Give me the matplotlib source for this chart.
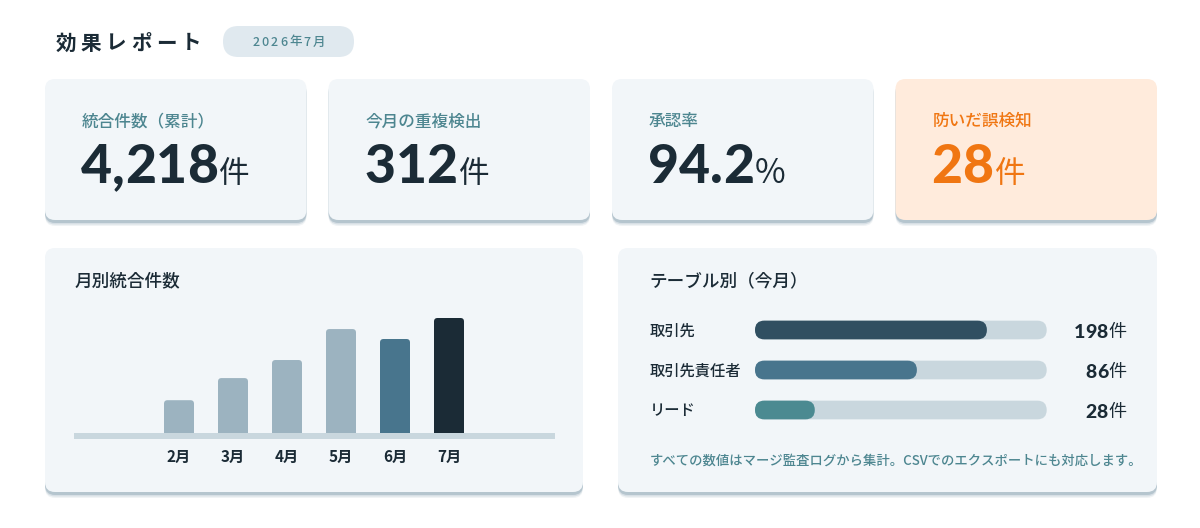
import matplotlib
matplotlib.use('Agg')
import matplotlib.pyplot as plt
from matplotlib.patches import FancyBboxPatch, Rectangle

plt.rcParams['font.family'] = ['Noto Sans CJK JP', 'DejaVu Sans']

# ---- data ----
report_title = '効果レポート'
report_month = '2026年7月'

kpi_labels = ['統合件数（累計）', '今月の重複検出', '承認率', '防いだ誤検知']
kpi_values = ['4,218', '312', '94.2', '28']
kpi_units = ['件', '件', '%', '件']

months = ['2月', '3月', '4月', '5月', '6月', '7月']
monthly_merges = [89, 149, 198, 282, 255, 312]

tables = ['取引先', '取引先責任者', 'リード']
table_counts = [198, 86, 28]
table_fill_pct = [79.5, 55.5, 20.5]

footnote = 'すべての数値はマージ監査ログから集計。CSVでのエクスポートにも対応します。'

# ---- colours ----
DARK = '#1b2b36'
TEAL = '#4d8690'
ORANGE = '#f07612'
CARD = '#f2f6f9'
CARD_WARM = '#ffebdc'
SHADOW = '#9fb4c0'
TRACK = '#c9d7de'
BAR_COLORS = ['#9cb3c0'] * 4 + ['#48758d', DARK]
FILL_COLORS = ['#304f61', '#48758d', '#4b8a91']

W, H = 1200, 528
fig = plt.figure(figsize=(W / 100, H / 100), dpi=100)
fig.patch.set_facecolor('white')
bg = fig.add_axes([0, 0, 1, 1])
bg.set_xlim(0, W)
bg.set_ylim(H, 0)
bg.axis('off')
renderer = fig.canvas.get_renderer()


def card(x, y, w, h, color=CARD):
    for off, a in [(6, 0.15), (4.5, 0.3), (3, 0.6)]:
        bg.add_patch(FancyBboxPatch((x, y + off), w, h, boxstyle='round,pad=0,rounding_size=10',
                                    fc=SHADOW, ec='none', alpha=a))
    bg.add_patch(FancyBboxPatch((x, y), w, h, boxstyle='round,pad=0,rounding_size=10',
                                fc=color, ec='none'))


def spaced(ax, x, y, s, spacing, ha='left', **kw):
    """draw a string char by char with a fixed gap, returns its width"""
    texts = [ax.text(0, y, c, ha='left', **kw) for c in s]
    widths = [t.get_window_extent(renderer).width for t in texts]
    total = sum(widths) + spacing * (len(s) - 1)
    if ha == 'center':
        cx = x - total / 2
    elif ha == 'right':
        cx = x - total
    else:
        cx = x
    for t, w in zip(texts, widths):
        t.set_x(cx)
        cx += w + spacing
    return total


# ---- header ----
spaced(bg, 56, 43, report_title, 4.5, va='center', fontsize=14.8, fontweight='bold', color=DARK)
bg.add_patch(FancyBboxPatch((223, 26), 131, 31, boxstyle='round,pad=0,rounding_size=15.5',
                            fc='#e0e9ef', ec='none'))
spaced(bg, 289, 42, report_month, 2, ha='center', va='center', fontsize=9,
       fontweight='medium', color=TEAL)

# ---- KPI cards ----
card_w = 261.5
for i, (lab, val, unit) in enumerate(zip(kpi_labels, kpi_values, kpi_units)):
    x = 45 + i * (card_w + 22)
    warm = i == 3
    card(x, 79, card_w, 141, CARD_WARM if warm else CARD)
    tx = x + 37
    bg.text(tx, 121, lab, va='center', fontsize=12, fontweight='medium',
            color=ORANGE if warm else TEAL)
    c = ORANGE if warm else DARK
    wv = spaced(bg, tx - 1, 183, val, 0, va='baseline', fontsize=38.5,
                fontfamily='Lato', fontweight='black', color=c)
    bg.text(tx + wv, 183, unit, va='baseline', fontsize=24 if unit == '%' else 22,
            fontweight='regular', color=c)

# ---- monthly card ----
card(45, 248, 538, 244)
bg.text(75, 281, '月別統合件数', va='center', fontsize=12.7, fontweight='medium', color=DARK)
bg.add_patch(Rectangle((74, 433), 481, 6, fc=TRACK, ec='none'))

ax = fig.add_axes([74 / W, (H - 433) / H, 481 / W, 125 / H])
ax.set_facecolor('none')
xs = list(range(len(months)))
bars = ax.bar(xs, monthly_merges, width=30 / 54, color=BAR_COLORS)
ax.set_xlim((74 - 164 - 15) / 54, (555 - 164 - 15) / 54)
ax.set_ylim(0, 312 * 125 / 115)
pxx = 54.0
pxy = 115 / 312
for b in bars:
    b.set_visible(False)
    r = 3.5
    ax.add_patch(FancyBboxPatch((b.get_x(), -20), b.get_width(), b.get_height() + 20,
                                boxstyle=f'round,pad=0,rounding_size={r / pxx}',
                                mutation_aspect=pxx / pxy, fc=b.get_facecolor(), ec='none'))
ax.set_xticks(xs)
ax.set_xticklabels(months, fontsize=11, fontweight='bold', color=DARK)
ax.tick_params(axis='x', length=0, pad=11.5)
ax.set_yticks([])
for s in ax.spines.values():
    s.set_visible(False)

# ---- per-table card ----
card(618, 248, 539, 244)
bg.text(649, 281, 'テーブル別（今月）', va='center', fontsize=12.7, fontweight='medium', color=DARK)

ax2 = fig.add_axes([755 / W, (H - 430) / H, 291.7 / W, 120 / H])
ax2.set_facecolor('none')
ax2.axis('off')
rows = list(range(len(tables)))
track = ax2.barh(rows, [100] * len(rows), height=18.7 / 40, color=TRACK)
fill = ax2.barh(rows, table_fill_pct, height=18.7 / 40, color=FILL_COLORS)
ax2.set_xlim(0, 100)
ax2.set_ylim(2.5, -0.5)
pxx2 = 291.7 / 100
pxy2 = 40.0
for b in list(track) + list(fill):
    b.set_visible(False)
    r = 9.3
    ax2.add_patch(FancyBboxPatch((b.get_x(), b.get_y()), b.get_width(), b.get_height(),
                                 boxstyle=f'round,pad=0,rounding_size={r / pxx2}',
                                 mutation_aspect=pxx2 / pxy2, fc=b.get_facecolor(), ec='none',
                                 clip_on=False))

for i, (name, cnt) in enumerate(zip(tables, table_counts)):
    y = 331 + i * 40
    bg.text(650, y, name, va='center', fontsize=11, fontweight='medium', color=DARK)
    wu = spaced(bg, 1126, y + 6.5, '件', 0, ha='right', va='baseline', fontsize=13,
                fontweight='regular', color=DARK)
    spaced(bg, 1126 - wu, y + 6.5, str(cnt), 0, ha='right', va='baseline', fontsize=14,
           fontfamily='Lato', fontweight='black', color=DARK)

bg.text(650, 461, footnote, va='center', fontsize=9.6, fontweight='medium', color=TEAL)

fig.savefig('out.png', dpi=100, facecolor='white')
